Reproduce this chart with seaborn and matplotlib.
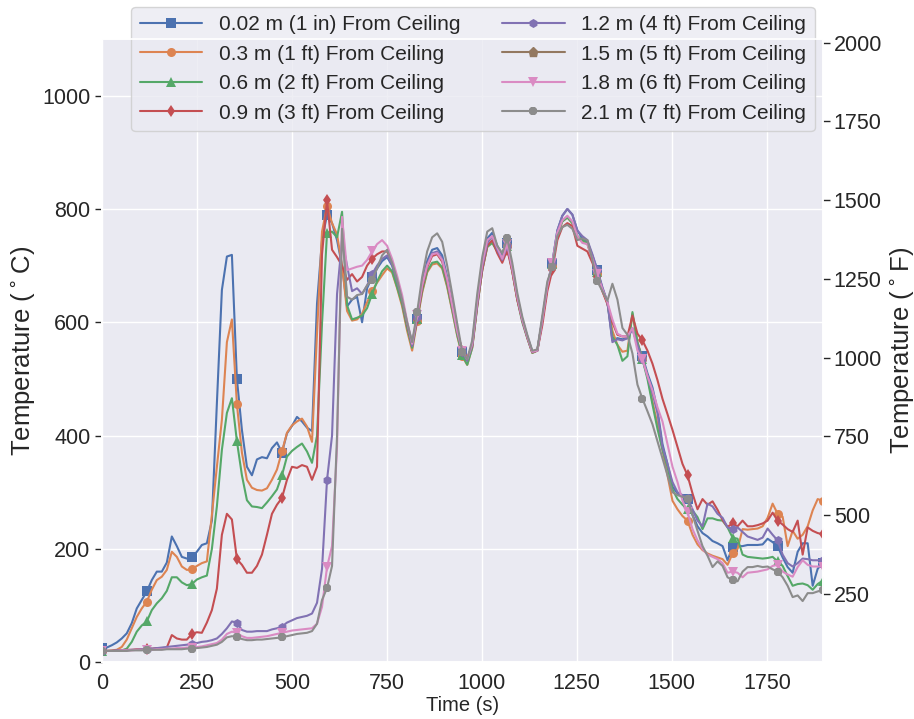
import numpy as np
import matplotlib
matplotlib.use('Agg')
import matplotlib.pyplot as plt
import seaborn as sns

# Sample times (s), one reading every ~13.2 s
time_s = np.linspace(0, 1897, 145)

labels = ['0.02 m (1 in) From Ceiling', '0.3 m (1 ft) From Ceiling',
          '0.6 m (2 ft) From Ceiling', '0.9 m (3 ft) From Ceiling',
          '1.2 m (4 ft) From Ceiling', '1.5 m (5 ft) From Ceiling',
          '1.8 m (6 ft) From Ceiling', '2.1 m (7 ft) From Ceiling']

# Temperatures (°C)
tc_1in = [25, 26, 30, 35, 42, 51, 69, 95, 110, 125,
          145, 160, 160, 176, 222, 205, 186, 183, 185, 195,
          207, 210, 250, 457, 657, 716, 719, 500, 410, 345,
          330, 358, 362, 360, 378, 388, 370, 404, 417, 433,
          425, 414, 408, 633, 745, 790, 775, 745, 700, 628,
          640, 645, 600, 660, 680, 695, 708, 715, 700, 670,
          638, 596, 565, 605, 668, 708, 728, 731, 718, 680,
          632, 585, 548, 533, 562, 638, 705, 748, 758, 735,
          718, 740, 698, 645, 605, 575, 548, 550, 605, 665,
          705, 762, 788, 800, 790, 762, 748, 742, 718, 692,
          660, 636, 568, 572, 570, 572, 590, 560, 540, 510,
          485, 445, 385, 350, 310, 298, 293, 289, 260, 240,
          228, 222, 214, 210, 205, 180, 203, 205, 205, 207,
          207, 207, 208, 218, 212, 205, 185, 168, 158, 195,
          210, 210, 135, 165, 175]
tc_1ft = [20, 20, 21, 22, 27, 40, 60, 80, 95, 107,
          128, 145, 151, 163, 195, 186, 169, 163, 164, 170,
          175, 178, 260, 345, 428, 565, 605, 455, 370, 322,
          308, 304, 303, 307, 322, 340, 372, 405, 418, 425,
          430, 416, 389, 580, 760, 805, 775, 755, 700, 620,
          603, 605, 615, 635, 655, 670, 683, 695, 688, 660,
          628, 585, 550, 602, 652, 688, 702, 704, 695, 662,
          620, 576, 540, 525, 555, 628, 692, 733, 742, 725,
          712, 735, 690, 640, 605, 573, 546, 550, 603, 662,
          700, 755, 778, 785, 775, 752, 742, 738, 710, 685,
          655, 634, 585, 560, 548, 550, 615, 565, 535, 505,
          460, 420, 375, 330, 285, 270, 258, 250, 225, 208,
          198, 192, 188, 185, 182, 172, 192, 200, 235, 234,
          235, 236, 240, 255, 280, 262, 257, 205, 232, 218,
          225, 240, 268, 288, 285]
tc_2ft = [20, 20, 20, 20, 21, 24, 36, 54, 65, 72,
          92, 104, 113, 126, 150, 150, 141, 136, 138, 146,
          150, 153, 200, 275, 375, 440, 466, 390, 330, 286,
          275, 274, 272, 282, 293, 305, 330, 363, 373, 380,
          386, 372, 352, 400, 598, 758, 760, 750, 795, 630,
          605, 608, 612, 625, 650, 672, 690, 700, 690, 662,
          632, 590, 555, 605, 655, 690, 705, 707, 697, 665,
          622, 578, 542, 525, 555, 628, 692, 733, 740, 725,
          712, 735, 690, 640, 600, 572, 546, 550, 603, 662,
          702, 755, 778, 785, 775, 752, 745, 740, 712, 688,
          658, 636, 575, 560, 532, 540, 618, 565, 535, 500,
          455, 412, 375, 345, 305, 288, 278, 270, 268, 256,
          235, 254, 254, 251, 250, 238, 220, 218, 190, 186,
          185, 184, 183, 184, 186, 178, 170, 152, 135, 138,
          139, 136, 128, 138, 144]
tc_3ft = [20, 20, 20, 21, 21, 22, 22, 23, 23, 24,
          24, 25, 25, 26, 48, 42, 40, 40, 50, 53,
          52, 70, 92, 130, 225, 262, 252, 182, 172, 158,
          158, 170, 190, 225, 262, 278, 290, 322, 345, 343,
          348, 345, 322, 345, 720, 815, 728, 715, 700, 675,
          685, 672, 680, 700, 712, 720, 725, 725, 705, 675,
          640, 596, 560, 605, 660, 697, 717, 720, 707, 672,
          628, 585, 550, 537, 558, 630, 692, 735, 745, 722,
          705, 728, 690, 640, 603, 573, 547, 550, 595, 655,
          692, 745, 768, 775, 770, 735, 730, 725, 705, 680,
          655, 632, 600, 578, 575, 575, 612, 580, 568, 550,
          527, 498, 465, 438, 410, 380, 350, 330, 298, 270,
          288, 278, 284, 269, 251, 239, 245, 240, 250, 240,
          240, 242, 245, 250, 264, 250, 243, 235, 230, 250,
          190, 238, 232, 228, 226]
tc_4ft = [20, 20, 20, 21, 21, 21, 22, 22, 23, 23,
          24, 25, 26, 27, 28, 29, 30, 31, 32, 34,
          36, 37, 39, 42, 50, 60, 72, 70, 57, 54,
          54, 55, 55, 55, 58, 60, 63, 70, 74, 78,
          80, 82, 86, 105, 165, 322, 400, 650, 745, 700,
          655, 660, 650, 665, 685, 700, 712, 718, 702, 672,
          640, 598, 558, 610, 665, 702, 722, 725, 712, 676,
          630, 585, 548, 532, 560, 633, 698, 740, 752, 728,
          710, 735, 695, 645, 605, 575, 548, 550, 605, 665,
          705, 762, 788, 800, 790, 762, 752, 745, 720, 692,
          662, 636, 565, 570, 568, 572, 588, 560, 535, 505,
          475, 440, 380, 350, 318, 300, 295, 290, 270, 250,
          240, 280, 275, 262, 255, 238, 235, 238, 230, 222,
          219, 216, 220, 236, 225, 215, 190, 175, 169, 175,
          183, 182, 180, 180, 180]
tc_5ft = []  # no trace of this sensor is visible on the chart
tc_6ft = [20, 20, 20, 20, 21, 21, 21, 22, 22, 22,
          22, 23, 23, 24, 24, 25, 25, 26, 26, 27,
          28, 30, 32, 34, 40, 50, 54, 52, 46, 43,
          43, 44, 45, 46, 48, 50, 52, 54, 56, 57,
          58, 59, 60, 68, 98, 168, 205, 380, 786, 692,
          695, 698, 700, 710, 725, 738, 745, 735, 712, 682,
          648, 602, 562, 612, 665, 700, 720, 722, 710, 676,
          630, 585, 550, 535, 562, 638, 703, 745, 752, 732,
          712, 738, 695, 645, 605, 575, 548, 550, 605, 665,
          705, 758, 780, 788, 778, 752, 740, 738, 712, 685,
          658, 636, 605, 580, 575, 575, 590, 550, 535, 505,
          480, 450, 425, 385, 345, 318, 285, 265, 235, 215,
          200, 190, 186, 182, 175, 158, 160, 158, 150, 158,
          159, 160, 162, 164, 170, 172, 160, 155, 151, 168,
          180, 172, 169, 169, 169]
tc_7ft = [20, 20, 20, 20, 20, 20, 21, 21, 21, 22,
          22, 22, 22, 23, 23, 23, 23, 24, 24, 25,
          26, 27, 29, 31, 36, 44, 46, 45, 41, 39,
          39, 40, 40, 41, 42, 43, 44, 46, 48, 50,
          51, 52, 55, 68, 110, 131, 170, 400, 765, 645,
          640, 648, 650, 665, 675, 695, 718, 728, 705, 675,
          640, 600, 565, 618, 680, 725, 750, 757, 742, 700,
          650, 598, 548, 535, 568, 650, 715, 760, 766, 735,
          722, 748, 705, 652, 610, 578, 550, 552, 612, 672,
          698, 752, 768, 772, 765, 745, 748, 745, 710, 672,
          655, 638, 668, 640, 590, 578, 545, 490, 465, 443,
          420, 390, 360, 330, 300, 295, 292, 288, 260, 232,
          205, 188, 168, 178, 170, 150, 145, 143, 160, 168,
          168, 170, 168, 169, 164, 160, 150, 135, 115, 118,
          108, 122, 122, 125, 128]

series = [tc_1in, tc_1ft, tc_2ft, tc_3ft, tc_4ft, tc_5ft, tc_6ft, tc_7ft]
markers = ['s', 'o', '^', 'd', 'h', 'p', 'v', '8']

sns.set_theme(style='darkgrid')
plt.rcParams['font.family'] = ['Liberation Sans', 'DejaVu Sans']
colors = sns.color_palette('deep', 8)

fig = plt.figure(figsize=(9.14, 7.19), dpi=100)
ax = fig.add_axes([0.1113, 0.0789, 0.7888, 0.8669])

for vals, lab, mk, col in zip(series, labels, markers, colors):
    if len(vals) == 0:
        # sensor listed in the legend but with no data drawn
        ax.plot([], [], color=col, marker=mk, lw=1.5, ms=6.5, label=lab)
        continue
    sns.lineplot(x=time_s, y=vals, ax=ax, color=col, marker=mk,
                 markevery=9, lw=1.5, ms=6.5, mew=0, label=lab,
                 estimator=None, sort=False)

ax.set_xlim(0, 1897)
ax.set_ylim(0, 1100)
ax.set_xticks(np.arange(0, 1751, 250))
ax.set_yticks(np.arange(0, 1001, 200))
ax.set_xlabel('Time (s)', fontsize=14.5, labelpad=1)
ax.set_ylabel(r'Temperature ($^\circ$C)', fontsize=18.5)
ax.tick_params(axis='both', labelsize=15.5)
ax.tick_params(axis='x', pad=2)
ax.tick_params(axis='y', length=5, width=1, color='#262626', pad=3)

# Fahrenheit axis on the right
ax2 = ax.twinx()
ax2.set_ylim(0 * 1.8 + 32, 1100 * 1.8 + 32)
ax2.set_yticks(np.arange(250, 2001, 250))
ax2.grid(False)
ax2.set_ylabel(r'Temperature ($^\circ$F)', fontsize=18.5)
ax2.tick_params(axis='y', labelsize=15.5, length=5, width=1,
                color='#262626', pad=3)

ax.legend(loc='upper center', bbox_to_anchor=(0.515, 1.068), ncol=2,
          fontsize=15, handlelength=3.0, columnspacing=2.0)

fig.savefig('out.png', dpi=100)
